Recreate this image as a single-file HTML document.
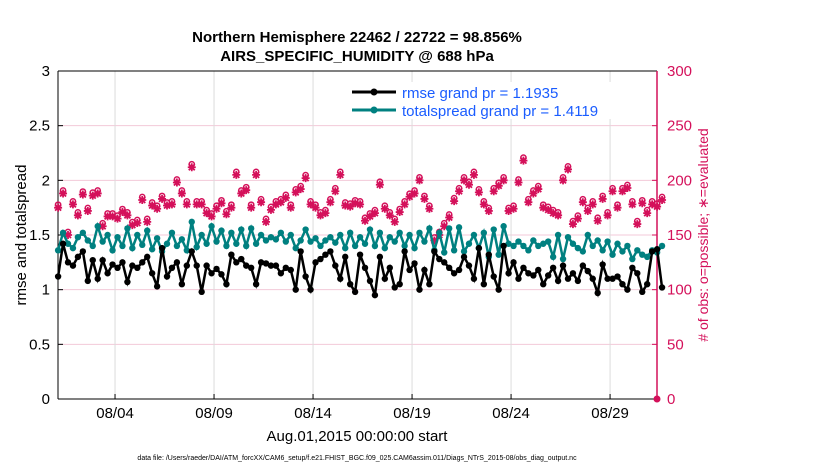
<!DOCTYPE html>
<html><head><meta charset="utf-8"><style>
body{margin:0;background:#fff;}
svg text{font-family:"Liberation Sans",sans-serif;}
</style></head><body>
<svg id="chart" width="830" height="470" xmlns="http://www.w3.org/2000/svg">
<rect width="830" height="470" fill="#fff"/>
<text x="357" y="42" font-size="15" font-weight="bold" text-anchor="middle">Northern Hemisphere 22462 / 22722 = 98.856%</text>
<text x="357" y="61" font-size="15" font-weight="bold" text-anchor="middle">AIRS_SPECIFIC_HUMIDITY @ 688 hPa</text>
<g id="grid"></g>
<g id="axes"></g>
<g id="marks"></g>
<text transform="translate(26,235) rotate(-90)" font-size="15" text-anchor="middle">rmse and totalspread</text>
<text transform="translate(708,235) rotate(-90)" font-size="14" fill="#d4105a" text-anchor="middle"># of obs: o=possible; ∗=evaluated</text>
<text x="357" y="441" font-size="15" text-anchor="middle">Aug.01,2015 00:00:00 start</text>
<text x="357" y="460" font-size="7" text-anchor="middle">data file: /Users/raeder/DAI/ATM_forcXX/CAM6_setup/f.e21.FHIST_BGC.f09_025.CAM6assim.011/Diags_NTrS_2015-08/obs_diag_output.nc</text>
<g>
<rect x="392" y="82" width="226" height="37" fill="#fff"/>
<line x1="352" y1="92" x2="396" y2="92" stroke="#000" stroke-width="3"/>
<circle cx="374" cy="92" r="3.5" fill="#000"/>
<text x="402" y="98" font-size="15" fill="#1a5cff">rmse grand pr = 1.1935</text>
<line x1="352" y1="110" x2="396" y2="110" stroke="#008080" stroke-width="3"/>
<circle cx="374" cy="110" r="3.5" fill="#008080"/>
<text x="402" y="116" font-size="15" fill="#1a5cff">totalspread grand pr = 1.4119</text>
</g>
</svg>
<script>
const rmse=[1.12,1.42,1.25,1.22,1.30,1.35,1.08,1.27,1.10,1.27,1.15,1.23,1.20,1.25,1.07,1.22,1.20,1.25,1.30,1.15,1.03,1.38,1.12,1.20,
1.25,1.05,1.22,1.35,1.22,0.98,1.22,1.15,1.19,1.14,1.05,1.32,1.25,1.28,1.22,1.20,1.05,1.25,1.24,1.22,1.22,1.15,1.20,1.18,
1.00,1.35,1.12,1.00,1.25,1.28,1.32,1.35,1.22,1.10,1.30,1.05,0.98,1.32,1.20,1.08,0.95,1.30,1.10,1.20,1.02,1.05,1.35,1.18,
1.24,1.00,1.18,1.05,1.35,1.28,1.25,1.20,1.15,1.18,1.30,1.22,1.10,1.38,1.05,1.32,1.12,1.00,1.40,1.15,1.25,1.10,1.20,1.15,
1.13,1.18,1.05,1.13,1.20,1.08,1.22,1.10,1.15,1.08,1.22,1.17,1.10,0.97,1.23,1.10,1.10,1.12,1.05,1.00,1.20,1.15,0.98,1.05,1.35,1.37,1.02];
const spread=[1.36,1.52,1.42,1.38,1.48,1.52,1.45,1.40,1.58,1.44,1.50,1.36,1.48,1.40,1.56,1.38,1.50,1.41,1.54,1.37,1.47,1.35,1.42,1.52,
1.40,1.46,1.36,1.62,1.39,1.50,1.42,1.58,1.44,1.54,1.40,1.52,1.42,1.55,1.40,1.56,1.42,1.50,1.45,1.48,1.46,1.52,1.44,1.50,
1.38,1.45,1.55,1.44,1.47,1.40,1.45,1.48,1.43,1.50,1.38,1.52,1.40,1.48,1.42,1.55,1.40,1.52,1.38,1.48,1.44,1.52,1.40,1.50,
1.38,1.52,1.44,1.56,1.36,1.52,1.34,1.56,1.36,1.57,1.35,1.42,1.50,1.38,1.52,1.30,1.55,1.32,1.58,1.42,1.40,1.44,1.40,1.36,
1.45,1.40,1.42,1.44,1.30,1.50,1.28,1.48,1.42,1.38,1.35,1.50,1.40,1.45,1.36,1.44,1.32,1.42,1.35,1.40,1.28,1.36,1.32,1.30,1.36,1.34,1.40];
const obs=[175,188,150,178,168,187,172,186,188,158,167,167,165,171,168,159,161,182,162,177,174,183,177,178,
198,188,178,212,178,178,170,167,174,179,169,175,205,188,191,175,205,180,162,173,178,180,184,175,
189,192,202,178,175,168,170,180,190,205,177,176,179,178,163,167,170,196,174,168,162,171,178,185,
188,200,183,174,145,150,158,166,181,190,200,196,205,189,178,172,190,195,200,172,174,198,218,180,
188,192,175,173,170,168,200,210,160,165,180,172,178,163,183,168,190,175,190,193,178,160,179,170,178,176,182];
const xTickLabels=['08/04','08/09','08/14','08/19','08/24','08/29'];
const xTickDays=[3,8,13,18,23,28];
const yTicksLeft=[0,0.5,1,1.5,2,2.5,3];
const yTicksRight=[0,50,100,150,200,250,300];
const X0=58,X1=657,Y0=399,Y1=71;
const dayStart=0.12,dayEnd=30.37;
const xs=d=>X0+(d-dayStart)/(dayEnd-dayStart)*(X1-X0);
const yl=v=>Y0-v/3*(Y0-Y1);
const yr=v=>Y0-v/300*(Y0-Y1);
const NS='http://www.w3.org/2000/svg';
function mk(tag,attrs,parent){const e=document.createElementNS(NS,tag);for(const k in attrs)e.setAttribute(k,attrs[k]);parent.appendChild(e);return e;}
const grid=document.getElementById('grid'),axes=document.getElementById('axes'),marks=document.getElementById('marks');
mk('rect',{x:X0,y:Y1,width:X1-X0,height:Y0-Y1,fill:'#fff'},grid);
yTicksLeft.forEach((v,i)=>{
  const g=mk('line',{x1:X0,x2:X1,y1:yl(v),y2:yl(v),stroke:'#f3c9d8','stroke-width':1},grid);
  
  
  const t=mk('text',{x:X0-8,y:yl(v)+5,'font-size':15,'text-anchor':'end'},axes);t.textContent=String(v);
  
  
  mk('line',{x1:X0,x2:X0+5,y1:yl(v),y2:yl(v),stroke:'#000'},axes);
  const tr=mk('text',{x:X1+10,y:yr(yTicksRight[i])+5,'font-size':15,fill:'#d4105a'},axes);tr.textContent=String(yTicksRight[i]);
  
  
  mk('line',{x1:X1-5,x2:X1,y1:yr(yTicksRight[i]),y2:yr(yTicksRight[i]),stroke:'#d4105a'},axes);
});
xTickDays.forEach((d,i)=>{
  const g=mk('line',{x1:xs(d),x2:xs(d),y1:Y1,y2:Y0,stroke:'#dcdcdc'},grid);
  
  
  mk('line',{x1:xs(d),x2:xs(d),y1:Y0,y2:Y0-5,stroke:'#000'},axes);
  const t=mk('text',{x:xs(d),y:Y0+19,'font-size':15,'text-anchor':'middle'},axes);t.textContent=xTickLabels[i];
  
  
});
mk('line',{x1:X0,x2:X0,y1:Y1,y2:Y0,stroke:'#000'},axes);
mk('line',{x1:X0,x2:X1,y1:Y0,y2:Y0,stroke:'#000'},axes);
mk('line',{x1:X0,x2:X1,y1:Y1,y2:Y1,stroke:'#000'},axes);
mk('line',{x1:X1,x2:X1,y1:Y1,y2:Y0,stroke:'#d4105a','stroke-width':1.5},axes);
const dayOf=i=>0.125+i*0.25;
obs.forEach((v,i)=>{
  const g=mk('g',{},marks);
  
  
  const x=xs(dayOf(i)),y=yr(v);
  mk('circle',{cx:x,cy:y-3,r:2.6,fill:'none',stroke:'#d4105a','stroke-width':1.5},g);
  mk('path',{d:`M${x-4},${y}H${x+4}M${x},${y-4}V${y+4}M${x-3},${y-3}L${x+3},${y+3}M${x-3},${y+3}L${x+3},${y-3}`,stroke:'#d4105a','stroke-width':1.8},g);
});
const lastObs=mk('circle',{cx:X1,cy:Y0,r:3.5,fill:'#d4105a'},marks);


function series(arr,color,name){
  const g=mk('g',{},marks);
  
  
  mk('polyline',{points:arr.map((v,i)=>xs(dayOf(i))+','+yl(v)).join(' '),fill:'none',stroke:color,'stroke-width':2.5},g);
  arr.forEach((v,i)=>mk('circle',{cx:xs(dayOf(i)),cy:yl(v),r:3.2,fill:color},g));
}
series(spread,'#008080','totalspread-series');
series(rmse,'#000','rmse-series');
</script>
</body></html>
